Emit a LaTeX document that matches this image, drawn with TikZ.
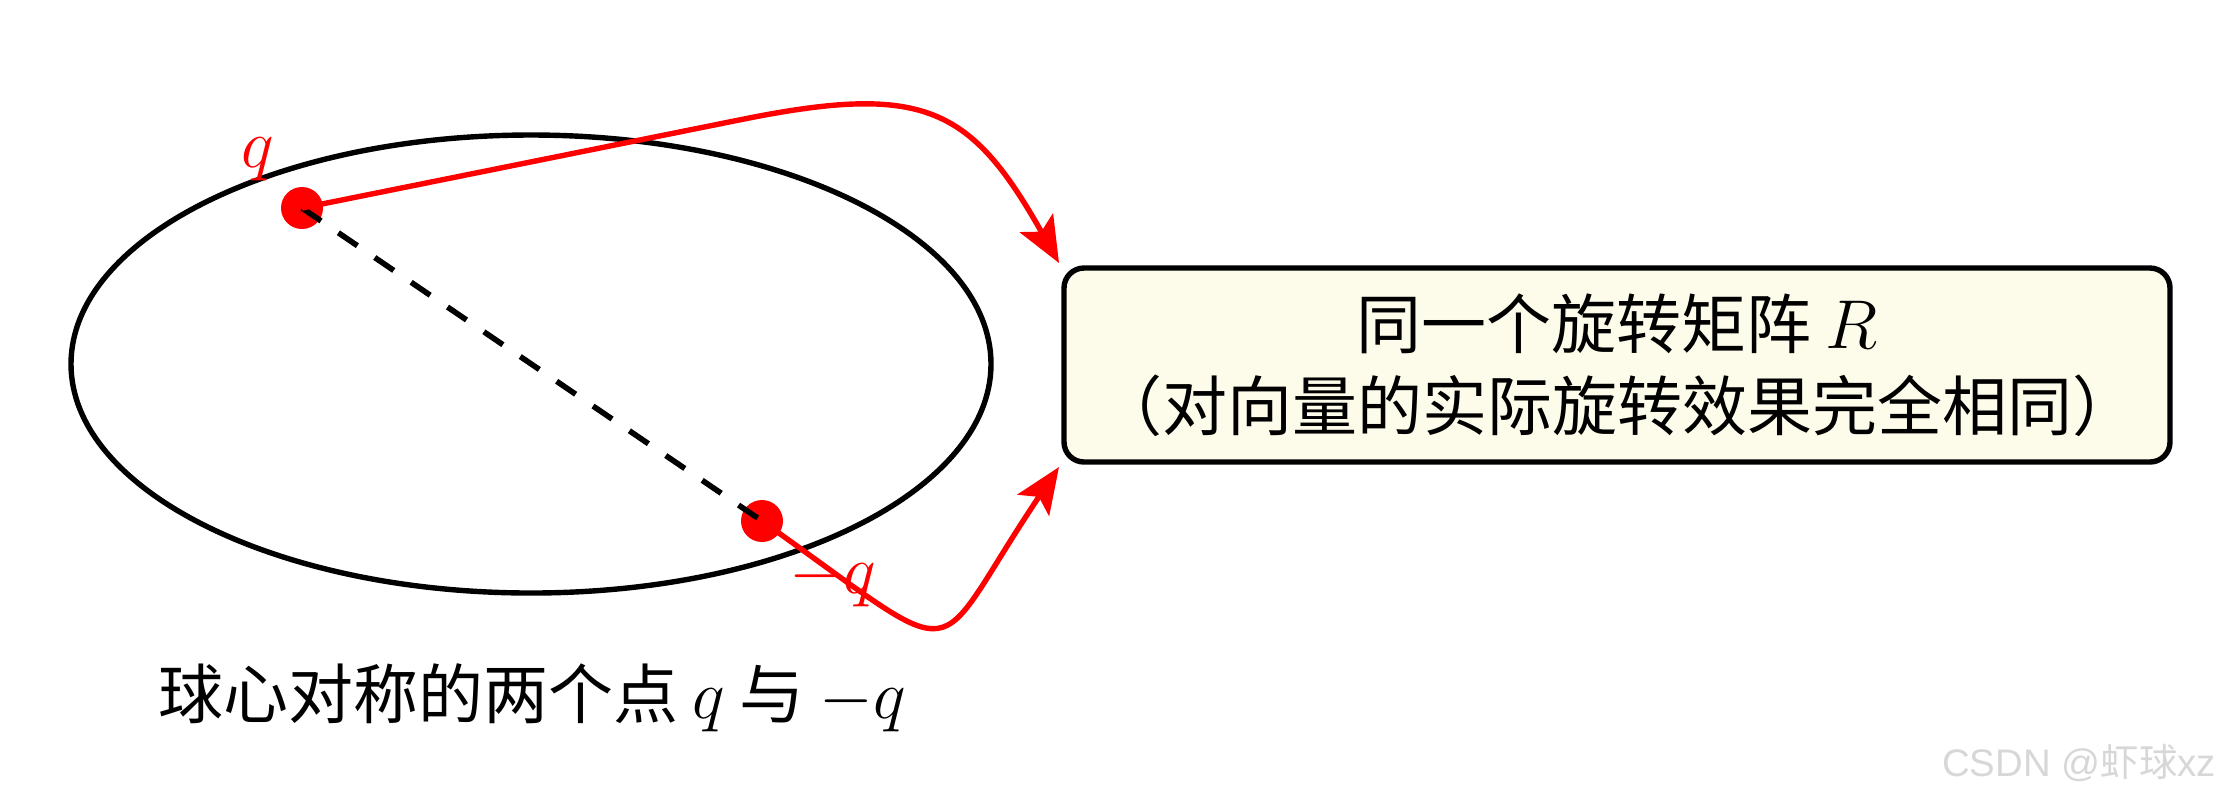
\documentclass[tikz,border=0pt]{standalone}
\usepackage{fontspec}
\newfontfamily\cjk{Noto Sans CJK SC}
\newfontfamily\wmfont{Liberation Sans}
\usetikzlibrary{arrows.meta}
\definecolor{boxfill}{RGB}{253,252,234}
\definecolor{wmgray}{RGB}{215,215,215}
\tikzset{
  dotnode/.style={circle, fill=red, draw=none, inner sep=0pt, minimum size=10.5pt},
  conn/.style={red, line width=1.35pt, -{Stealth[length=11.5pt,width=9.5pt,inset=2.5pt]}},
  ptlabel/.style={red, inner sep=0pt, font=\fontsize{16.5pt}{20pt}\selectfont},
  infobox/.style={draw, line width=1.35pt, rounded corners=5pt, fill=boxfill,
    minimum width=276.5pt, minimum height=48.5pt, align=center, inner sep=0pt,
    font=\cjk\fontsize{16.25pt}{20.5pt}\selectfont},
  caption/.style={inner sep=0pt, font=\cjk\fontsize{16.25pt}{20pt}\selectfont},
  diam/.style={dashed, line width=1.4pt, dash pattern=on 5.75pt off 5.25pt},
  watermark/.style={inner sep=0pt, text=wmgray, font=\wmfont\fontsize{9.6pt}{11pt}\selectfont}
}
\begin{document}
\begin{tikzpicture}[x=0.25pt,y=-0.25pt]
\useasboundingbox (0,0) rectangle (2225,796);
% sphere outline
\draw[line width=1.35pt] (531,364) ellipse [x radius=115pt, y radius=57.25pt];
% points
\node[dotnode] (q) at (302,208) {};
\node[dotnode] (mq) at (762,521) {};
\draw[diam] (q.center) -- (mq.center);
\node[ptlabel] (ql) at (258,159) {$q$};
\node[ptlabel] (mql) at (833,580) {$-q$};
% box
\node[infobox] (box) at (1617,365) {同一个旋转矩阵 $R$\\（对向量的实际旋转效果完全相同）};
% arrow ends
\coordinate (e1) at (1059,263);
\coordinate (e2) at (1059,467);
\coordinate (bend) at (744,119);
\draw[conn] (q.center) -- (bend) .. controls (924,83) and (971,107) .. (e1);
\draw[conn] (mq.center) .. controls (974,671) and (925,666) .. (e2);
% caption
\node[caption, anchor=base] (cap) at (532,718) {球心对称的两个点 $q$ 与 $-q$};
% watermark
\node[watermark] (wm) at (2079,763) {CSDN @{\cjk 虾球}xz};
\end{tikzpicture}
\end{document}
